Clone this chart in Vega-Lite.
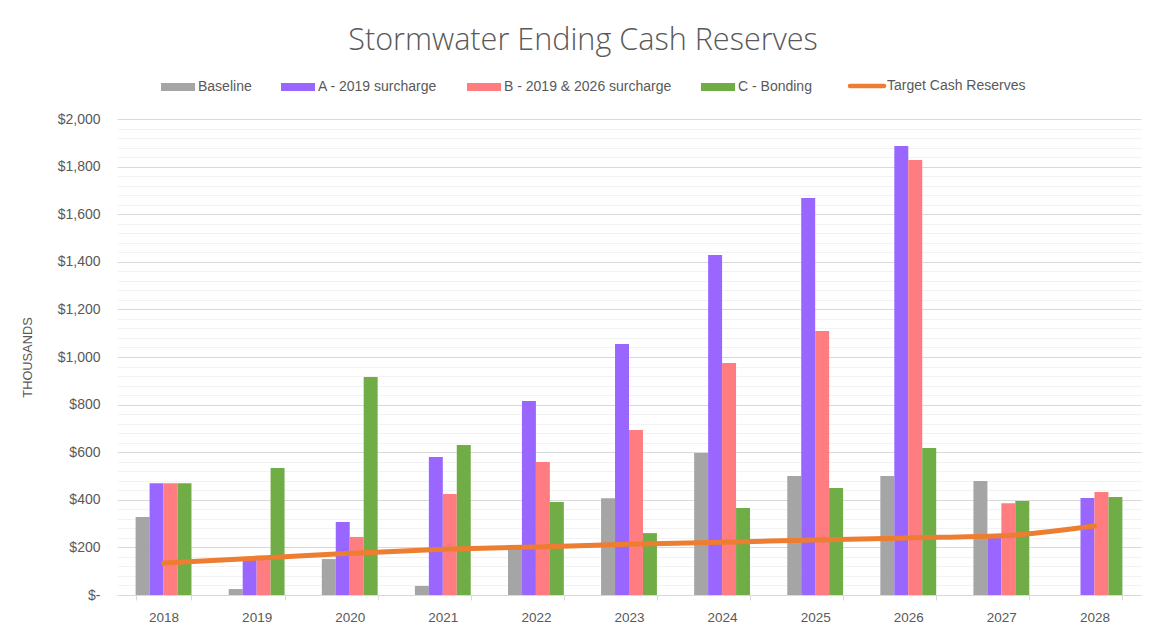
{
  "$schema": "https://vega.github.io/schema/vega-lite/v6.json",
  "width": 1024,
  "height": 476,
  "autosize": {"type": "none"},
  "padding": {"left": 117, "top": 119, "right": 10, "bottom": 40},
  "background": "white",
  "config": {"view": {"stroke": null}, "font": "Liberation Sans"},
  "title": {
    "text": "Stormwater Ending Cash Reserves",
    "font": "Open Sans",
    "fontSize": 30.6,
    "fontWeight": 300,
    "color": "#595959",
    "anchor": "middle",
    "dx": -46,
    "offset": 22
  },
  "datasets": {
    "bars": [
      {"year": "2018", "series": "Baseline", "value": 328},
      {"year": "2018", "series": "A - 2019 surcharge", "value": 470},
      {"year": "2018", "series": "B - 2019 & 2026 surcharge", "value": 470},
      {"year": "2018", "series": "C - Bonding", "value": 470},
      {"year": "2019", "series": "Baseline", "value": 25},
      {"year": "2019", "series": "A - 2019 surcharge", "value": 150},
      {"year": "2019", "series": "B - 2019 & 2026 surcharge", "value": 150},
      {"year": "2019", "series": "C - Bonding", "value": 534},
      {"year": "2020", "series": "Baseline", "value": 151},
      {"year": "2020", "series": "A - 2019 surcharge", "value": 307},
      {"year": "2020", "series": "B - 2019 & 2026 surcharge", "value": 244},
      {"year": "2020", "series": "C - Bonding", "value": 916},
      {"year": "2021", "series": "Baseline", "value": 38},
      {"year": "2021", "series": "A - 2019 surcharge", "value": 580},
      {"year": "2021", "series": "B - 2019 & 2026 surcharge", "value": 424},
      {"year": "2021", "series": "C - Bonding", "value": 630},
      {"year": "2022", "series": "Baseline", "value": 210},
      {"year": "2022", "series": "A - 2019 surcharge", "value": 815},
      {"year": "2022", "series": "B - 2019 & 2026 surcharge", "value": 559},
      {"year": "2022", "series": "C - Bonding", "value": 391},
      {"year": "2023", "series": "Baseline", "value": 407},
      {"year": "2023", "series": "A - 2019 surcharge", "value": 1055},
      {"year": "2023", "series": "B - 2019 & 2026 surcharge", "value": 693},
      {"year": "2023", "series": "C - Bonding", "value": 260},
      {"year": "2024", "series": "Baseline", "value": 597},
      {"year": "2024", "series": "A - 2019 surcharge", "value": 1429},
      {"year": "2024", "series": "B - 2019 & 2026 surcharge", "value": 975},
      {"year": "2024", "series": "C - Bonding", "value": 366},
      {"year": "2025", "series": "Baseline", "value": 500},
      {"year": "2025", "series": "A - 2019 surcharge", "value": 1668},
      {"year": "2025", "series": "B - 2019 & 2026 surcharge", "value": 1109},
      {"year": "2025", "series": "C - Bonding", "value": 450},
      {"year": "2026", "series": "Baseline", "value": 500},
      {"year": "2026", "series": "A - 2019 surcharge", "value": 1887},
      {"year": "2026", "series": "B - 2019 & 2026 surcharge", "value": 1828},
      {"year": "2026", "series": "C - Bonding", "value": 618},
      {"year": "2027", "series": "Baseline", "value": 479},
      {"year": "2027", "series": "A - 2019 surcharge", "value": 244},
      {"year": "2027", "series": "B - 2019 & 2026 surcharge", "value": 386},
      {"year": "2027", "series": "C - Bonding", "value": 395},
      {"year": "2028", "series": "Baseline", "value": 0},
      {"year": "2028", "series": "A - 2019 surcharge", "value": 408},
      {"year": "2028", "series": "B - 2019 & 2026 surcharge", "value": 433},
      {"year": "2028", "series": "C - Bonding", "value": 412}
    ],
    "target": [
      {"year": "2018", "target": 134},
      {"year": "2019", "target": 155},
      {"year": "2020", "target": 175},
      {"year": "2021", "target": 192},
      {"year": "2022", "target": 202},
      {"year": "2023", "target": 213},
      {"year": "2024", "target": 222},
      {"year": "2025", "target": 231},
      {"year": "2026", "target": 240},
      {"year": "2027", "target": 249},
      {"year": "2028", "target": 290}
    ]
  },
  "layer": [
    {
      "data": {"name": "bars"},
      "mark": {"type": "bar"},
      "encoding": {
        "x": {
          "field": "year",
          "type": "nominal",
          "scale": {"paddingInner": 0.4, "paddingOuter": 0.2},
          "axis": {
            "title": null,
            "tickBand": "extent",
            "labelAngle": 0,
            "domainColor": "#d9d9d9",
            "tickColor": "#d9d9d9",
            "tickSize": 5,
            "labelFontSize": 13.5,
            "labelColor": "#595959",
            "labelPadding": 10,
            "grid": false
          }
        },
        "xOffset": {
          "field": "series",
          "type": "nominal",
          "scale": {"domain": ["Baseline", "A - 2019 surcharge", "B - 2019 & 2026 surcharge", "C - Bonding"], "paddingInner": 0, "paddingOuter": 0}
        },
        "y": {
          "field": "value",
          "type": "quantitative",
          "scale": {"domain": [0, 2000], "nice": false},
          "axis": {
            "title": "THOUSANDS",
            "values": [0, 40, 80, 120, 160, 200, 240, 280, 320, 360, 400, 440, 480, 520, 560, 600, 640, 680, 720, 760, 800, 840, 880, 920, 960, 1000, 1040, 1080, 1120, 1160, 1200, 1240, 1280, 1320, 1360, 1400, 1440, 1480, 1520, 1560, 1600, 1640, 1680, 1720, 1760, 1800, 1840, 1880, 1920, 1960, 2000],
            "tickCount": 100,
            "grid": true,
            "gridColor": {"condition": {"test": "datum.value % 200 === 0", "value": "#d9d9d9"}, "value": "#f2f2f2"},
            "ticks": false,
            "domain": false,
            "labelExpr": "datum.value % 200 !== 0 ? '' : (datum.value === 0 ? '$-\u00a0\u00a0\u00a0' : '$' + format(datum.value, ','))",
            "labelOverlap": false,
            "labelPadding": 17,
            "labelFontSize": 14,
            "labelColor": "#595959",
            "titleFontSize": 12.8,
            "titleColor": "#595959",
            "titleFontWeight": "normal",
            "titlePadding": 23
          }
        },
        "color": {
          "field": "series",
          "type": "nominal",
          "scale": {
            "domain": ["Baseline", "A - 2019 surcharge", "B - 2019 & 2026 surcharge", "C - Bonding", "Target Cash Reserves"],
            "range": ["#A5A5A5", "#9966FF", "#FF7C80", "#70AD47", "#ED7D31"]
          },
          "legend": {
            "title": null,
            "orient": "none",
            "legendX": 54,
            "legendY": -40,
            "direction": "horizontal",
            "columns": 5,
            "columnPadding": 29,
            "labelOffset": 13,
            "labelLimit": 400,
            "symbolSize": 1156,
            "labelFontSize": 14,
            "labelColor": "#595959",
            "encode": {
              "symbols": {
                "update": {
                  "shape": {"signal": "datum.value === 'Target Cash Reserves' ? 'stroke' : 'M-1,-0.235H1V0.235H-1Z'"},
                  "fill": {"signal": "datum.value === 'Target Cash Reserves' ? 'transparent' : scale('color', datum.value)"},
                  "stroke": {"signal": "datum.value === 'Target Cash Reserves' ? scale('color', datum.value) : 'transparent'"},
                  "strokeWidth": {"signal": "datum.value === 'Target Cash Reserves' ? 4.5 : 0"},
                  "strokeCap": {"value": "round"},
                  "opacity": {"value": 1}
                }
              }
            }
          }
        }
      }
    },
    {
      "data": {"name": "target"},
      "mark": {"type": "line", "interpolate": "monotone", "strokeWidth": 5, "strokeCap": "round"},
      "encoding": {
        "x": {"field": "year", "type": "nominal"},
        "y": {"field": "target", "type": "quantitative"},
        "color": {"datum": "Target Cash Reserves"}
      }
    }
  ]
}
